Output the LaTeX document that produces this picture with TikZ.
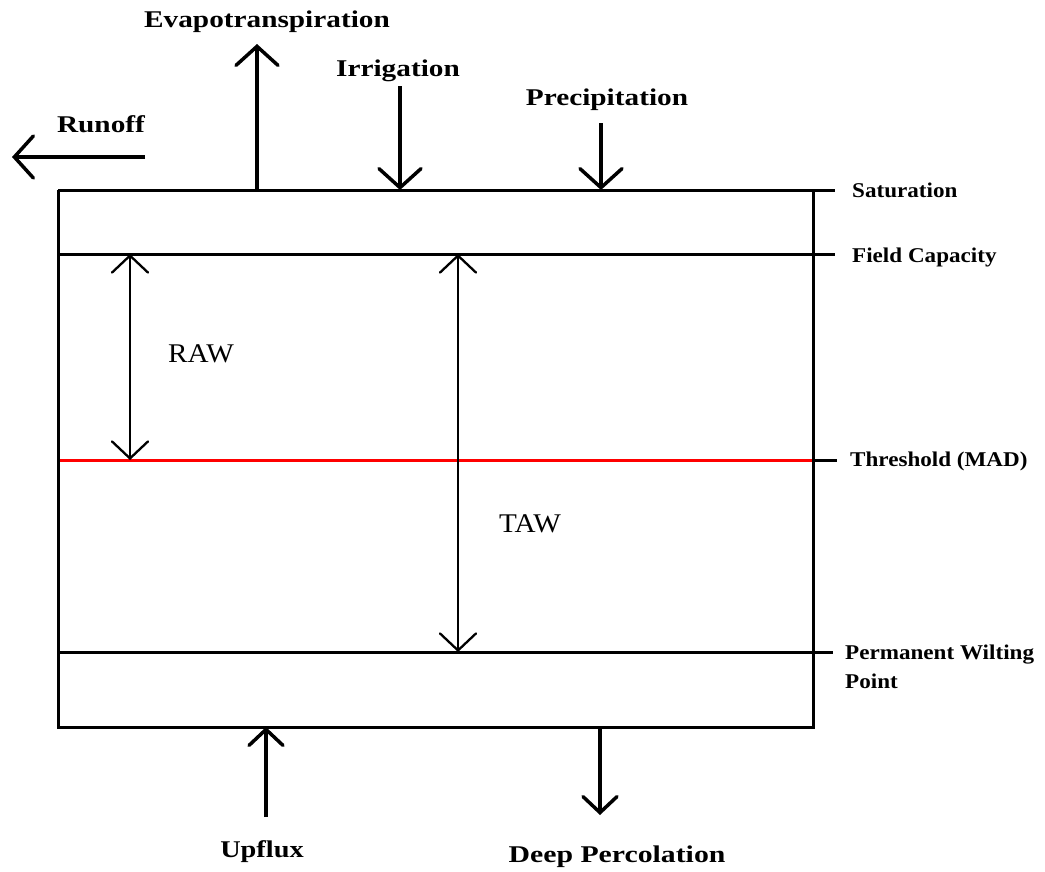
\documentclass[tikz,border=0pt]{standalone}
\usepackage{fontspec}
\setmainfont{Liberation Serif}
\usetikzlibrary{arrows.meta}
\tikzset{
  boxline/.style={line width=3pt},
  flux/.style={line width=3.5pt,-{Straight Barb[length=19pt,width=42pt,line cap=round]}},
  fluxsm/.style={line width=3.5pt,-{Straight Barb[length=16pt,width=34pt,line cap=round]}},
  span/.style={line width=2.3pt,{Straight Barb[length=17pt,width=36pt,line cap=round]}-{Straight Barb[length=17pt,width=36pt,line cap=round]}},
  fluxlabel/.style={inner sep=0pt,anchor=base,font=\fontsize{24}{28}\selectfont\bfseries},
  levellabel/.style={inner sep=0pt,anchor=base west,font=\fontsize{21}{25}\selectfont\bfseries},
  zonelabel/.style={inner sep=0pt,anchor=base,font=\fontsize{27}{31}\selectfont},
}
\begin{document}
\begin{tikzpicture}[x=1pt,y=-1pt]
\useasboundingbox (0,0) rectangle (1045,871);
% levels
\coordinate (satL) at (58,190);  \coordinate (satR) at (835,190);
\coordinate (fcL) at (58,254);   \coordinate (fcR) at (835,254);
\coordinate (madL) at (58,460);  \coordinate (madM) at (813,460); \coordinate (madR) at (837,460);
\coordinate (pwpL) at (58,652);  \coordinate (pwpR) at (833,652);
\coordinate (botL) at (58,727);  \coordinate (botR) at (813,727);
\coordinate (topR) at (813,190);
\draw[boxline] (satL) -- (satR);
\draw[boxline] (fcL) -- (fcR);
\draw[boxline,red] (madL) -- (madM);
\draw[boxline] (madM) -- (madR);
\draw[boxline] (pwpL) -- (pwpR);
\draw[boxline] (satL) -- (botL) -- (botR) -- (topR);
% level labels
\node[levellabel] (sat) at (852,197) {\scalebox{1.1}[1]{Saturation}};
\node[levellabel] (fc) at (852,262) {\scalebox{1.1}[1]{Field Capacity}};
\node[levellabel] (mad) at (850,466) {\scalebox{1.1}[1]{Threshold (MAD)}};
\node[levellabel] (pwp) at (845,659) {\scalebox{1.1}[1]{Permanent Wilting}};
\node[levellabel] (pwp2) at (845,688) {\scalebox{1.1}[1]{Point}};
% flux labels
\node[fluxlabel] (et) at (267,27) {\scalebox{1.22}[1]{Evapotranspiration}};
\node[fluxlabel] (irr) at (398,76) {\scalebox{1.22}[1]{Irrigation}};
\node[fluxlabel] (ro) at (101,132) {\scalebox{1.22}[1]{Runoff}};
\node[fluxlabel] (pr) at (607,105) {\scalebox{1.22}[1]{Precipitation}};
\node[fluxlabel] (up) at (262,857) {\scalebox{1.18}[1]{Upflux}};
\node[fluxlabel] (dp) at (617,862) {\scalebox{1.24}[1]{Deep Percolation}};
% flux arrows
\coordinate (etA) at (257,190); \coordinate (etB) at (257,44);
\coordinate (irA) at (400,86);  \coordinate (irB) at (400,190);
\coordinate (roA) at (145,157); \coordinate (roB) at (12,157);
\coordinate (prA) at (601,123); \coordinate (prB) at (601,190);
\coordinate (upA) at (266,817); \coordinate (upB) at (266,727);
\coordinate (dpA) at (600,727); \coordinate (dpB) at (600,815);
\draw[flux] (etA) -- (etB);
\draw[flux] (irA) -- (irB);
\draw[flux] (roA) -- (roB);
\draw[flux] (prA) -- (prB);
\draw[fluxsm] (upA) -- (upB);
\draw[fluxsm] (dpA) -- (dpB);
% RAW / TAW
\coordinate (rawT) at (130,254); \coordinate (rawB) at (130,460);
\coordinate (tawT) at (458,254); \coordinate (tawB) at (458,652);
\draw[span] (rawT) -- (rawB);
\draw[span] (tawT) -- (tawB);
\node[zonelabel] (raw) at (201,362) {\scalebox{1.08}[1]{RAW}};
\node[zonelabel] (taw) at (530,532) {\scalebox{1.08}[1]{TAW}};
\end{tikzpicture}
\end{document}
